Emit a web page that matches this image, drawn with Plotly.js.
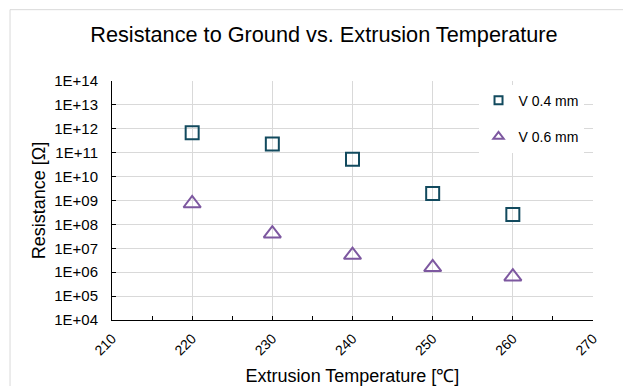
<!DOCTYPE html>
<html>
<head>
<meta charset="utf-8">
<script src="https://cdn.plot.ly/plotly-3.0.1.min.js"></script>
<style>html,body{margin:0;padding:0;background:#fff;}#chart{width:623px;height:386px;}</style>
</head>
<body>
<div id="chart"></div>
<script>
// Data
const temperatures = [220, 230, 240, 250, 260];
const v04mm = [6.9e11, 2.3e11, 5.3e10, 1.95e9, 2.6e8];
const v06mm = [7.5e8, 4.1e7, 5.2e6, 1.6e6, 6.5e5];
const seriesNames = ["V 0.4 mm", "V 0.6 mm"];
const yTickVals = [1e4, 1e5, 1e6, 1e7, 1e8, 1e9, 1e10, 1e11, 1e12, 1e13, 1e14];
const yTickText = ["1E+04", "1E+05", "1E+06", "1E+07", "1E+08", "1E+09", "1E+10", "1E+11", "1E+12", "1E+13", "1E+14"];
const xTickVals = [210, 220, 230, 240, 250, 260, 270];

const cSquare = "#124a5e";
const cTri = "#7d58a0";
const FONT = "Liberation Sans, Arial, sans-serif";

const traces = [
  {x: temperatures, y: v04mm, type: "scatter", mode: "markers", name: seriesNames[0], showlegend: false,
   marker: {symbol: "square-open", size: 13, color: cSquare, line: {width: 2, color: cSquare}}},
  {x: temperatures, y: v06mm, type: "scatter", mode: "markers", name: seriesNames[1], showlegend: false,
   marker: {symbol: "triangle-up-open", size: 15, color: cTri, line: {width: 2, color: cTri}}},
  // legend entries with smaller symbols
  {x: [null], y: [null], type: "scatter", mode: "markers", name: seriesNames[0], legendgroup: "a",
   marker: {symbol: "square-open", size: 8, color: cSquare, line: {width: 2, color: cSquare}}},
  {x: [null], y: [null], type: "scatter", mode: "markers", name: seriesNames[1], legendgroup: "b",
   marker: {symbol: "triangle-up-open", size: 9, color: cTri, line: {width: 2, color: cTri}}}
];

const layout = {
  width: 623, height: 386,
  margin: {l: 112, r: 30, t: 80.5, b: 66, pad: 0},
  paper_bgcolor: "#fff", plot_bgcolor: "#fff",
  font: {family: FONT, color: "#000"},
  title: {text: "Resistance to Ground vs. Extrusion Temperature", font: {size: 21.7, color: "#000"},
          xref: "container", x: 0.52, xanchor: "center", yref: "container", y: 0.912, yanchor: "middle"},
  xaxis: {
    range: [210, 270], tickvals: xTickVals, ticktext: xTickVals.map(String),
    tickangle: -45, tickfont: {size: 14}, ticks: "inside", ticklen: 4, tickcolor: "#000",
    showline: true, linecolor: "#000", linewidth: 1, mirror: false,
    showgrid: true, gridcolor: "#d9d9d9", gridwidth: 1, zeroline: false,
    minor: {dtick: 5, ticks: "inside", ticklen: 4, tickcolor: "#000", showgrid: false},
    ticklabelstandoff: 4,
    title: {text: "Extrusion Temperature [℃]", font: {size: 18}, standoff: 13}
  },
  yaxis: {
    type: "log", range: [4, 14], tickvals: yTickVals, ticktext: yTickText,
    tickfont: {size: 15}, ticks: "inside", ticklen: 4, tickcolor: "#000",
    showline: true, linecolor: "#000", linewidth: 1,
    showgrid: true, gridcolor: "#d9d9d9", gridwidth: 1, zeroline: false,
    ticklabelstandoff: 10,
    title: {text: "Resistance [Ω]", font: {size: 18}, standoff: 3}
  },
  legend: {x: 0.762, xanchor: "left", y: 0.985, yanchor: "top", bgcolor: "#fff", borderwidth: 0,
           font: {size: 14, color: "#000"}, traceorder: "grouped", tracegroupgap: 15},
  shapes: [
    {type: "rect", xref: "paper", yref: "paper", x0: -0.212, x1: 1.12, y0: -0.32, y1: 1.2985,
     line: {color: "#d9d9d9", width: 1}, fillcolor: "rgba(0,0,0,0)", layer: "below"}
  ]
};

Plotly.newPlot("chart", traces, layout, {staticPlot: true, displayModeBar: false});
</script>
</body>
</html>
